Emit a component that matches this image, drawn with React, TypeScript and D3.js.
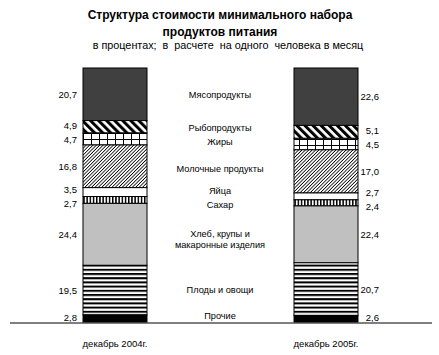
import React from "react";
import * as d3 from "d3";

const categories = [
  "Мясопродукты",
  "Рыбопродукты",
  "Жиры",
  "Молочные продукты",
  "Яйца",
  "Сахар",
  "Хлеб, крупы и|макаронные изделия",
  "Плоды и овощи",
  "Прочие",
];
const years = ["декабрь 2004г.", "декабрь 2005г."];
const values2004 = [20.7, 4.9, 4.7, 16.8, 3.5, 2.7, 24.4, 19.5, 2.8];
const values2005 = [22.6, 5.1, 4.5, 17.0, 2.7, 2.4, 22.4, 20.7, 2.6];
const fills = [
  "#404040",
  "url(#pFish)",
  "url(#pFat)",
  "url(#pDairy)",
  "#ffffff",
  "url(#pSugar)",
  "#c0c0c0",
  "url(#pFruit)",
  "#000000",
];

const W = 439;
const H = 355;
const FONT = "'Liberation Sans', Arial, sans-serif";

function fmt(v: number) {
  return v.toFixed(1).replace(".", ",");
}

function spread(centers: number[], minGap: number, maxY: number) {
  const out = centers.slice();
  for (let iter = 0; iter < 30; iter++) {
    for (let i = 1; i < out.length; i++) {
      const g = out[i] - out[i - 1];
      if (g < minGap) {
        const d = (minGap - g) / 2;
        out[i - 1] -= d;
        out[i] += d;
      }
    }
    for (let i = 0; i < out.length; i++) out[i] = Math.min(out[i], maxY);
  }
  return out;
}

export default function App() {
  const y = d3.scaleLinear().domain([0, 100]).range([322, 68]);
  const x = d3.scalePoint().domain(years).range([115, 326]);
  const bw = 64;
  const series = [values2004, values2005];

  const segs = series.map((vals) => {
    let cum = 0;
    return vals.map((v) => {
      const top = 100 - cum;
      cum += v;
      const bot = 100 - cum;
      return { v, y0: y(top), y1: y(bot) };
    });
  });
  const centers = segs.map((s) => s.map((d) => (d.y0 + d.y1) / 2));
  const leftLab = spread(centers[0], 14, 317);
  const rightLab = spread(centers[1], 14, 317);
  const midLab = spread(
    centers[0].map((c, i) => (c + centers[1][i]) / 2),
    14,
    316
  );

  return (
    <svg
      width={W}
      height={H}
      style={{ position: "absolute", left: 0, top: 0, background: "#fff" }}
      fontFamily={FONT}
    >
      <defs>
        <pattern id="pFish" patternUnits="userSpaceOnUse" width={5.7} height={10} patternTransform="rotate(-45)">
          <rect width={5.7} height={10} fill="#fff" />
          <rect width={3} height={10} fill="#000" />
        </pattern>
        <pattern id="pDairy" patternUnits="userSpaceOnUse" width={2.4} height={10} patternTransform="rotate(45)">
          <rect width={2.4} height={10} fill="#fff" />
          <rect width={0.8} height={10} fill="#000" />
        </pattern>
        <pattern id="pFat" patternUnits="userSpaceOnUse" width={8} height={6} x={83} y={133}>
          <rect width={8} height={6} fill="#fff" />
          <rect x={0} width={1} height={6} fill="#000" />
          <rect y={0} width={8} height={1} fill="#000" />
        </pattern>
        <pattern id="pSugar" patternUnits="userSpaceOnUse" width={3.2} height={10}>
          <rect width={3.2} height={10} fill="#fff" />
          <rect width={1.5} height={10} fill="#000" />
        </pattern>
        <pattern id="pFruit" patternUnits="userSpaceOnUse" width={10} height={4.2}>
          <rect width={10} height={4.2} fill="#fff" />
          <rect width={10} height={2} fill="#000" />
        </pattern>
      </defs>

      <text x={220} y={15} textAnchor="middle" dominantBaseline="central" fontSize={12} fontWeight="bold">
        Структура стоимости минимального набора
      </text>
      <text x={220} y={32} textAnchor="middle" dominantBaseline="central" fontSize={12} fontWeight="bold">
        продуктов питания
      </text>
      <text x={228} y={45} textAnchor="middle" dominantBaseline="central" fontSize={10.8} style={{ whiteSpace: "pre" }}>
        {"в процентах;  в  расчете  на одного  человека в месяц"}
      </text>

      {segs.map((s, si) =>
        s.map((d, i) => (
          <rect
            key={`${si}-${i}`}
            x={(x(years[si]) as number) - bw / 2}
            y={d.y0}
            width={bw}
            height={d.y1 - d.y0}
            fill={fills[i]}
            stroke="#000"
            strokeWidth={1}
          />
        ))
      )}

      {segs[0].map((d, i) => (
        <text key={`l${i}`} x={77} y={leftLab[i]} textAnchor="end" dominantBaseline="central" fontSize={9.5}>
          {fmt(d.v)}
        </text>
      ))}
      {segs[1].map((d, i) => (
        <text key={`r${i}`} x={379} y={rightLab[i]} textAnchor="end" dominantBaseline="central" fontSize={9.5}>
          {fmt(d.v)}
        </text>
      ))}
      {categories.map((c, i) => {
        const lines = c.split("|");
        return (
          <text key={`c${i}`} x={220} y={midLab[i]} textAnchor="middle" dominantBaseline="central" fontSize={9.2}>
            {lines.map((ln, j) => (
              <tspan key={j} x={220} dy={j === 0 ? 0 : 11}>
                {ln}
              </tspan>
            ))}
          </text>
        );
      })}

      <line x1={10} x2={432} y1={323} y2={323} stroke="#000" strokeWidth={1} />

      {years.map((yr) => (
        <text key={yr} x={x(yr) as number} y={343} textAnchor="middle" dominantBaseline="central" fontSize={9.5}>
          {yr}
        </text>
      ))}
    </svg>
  );
}
